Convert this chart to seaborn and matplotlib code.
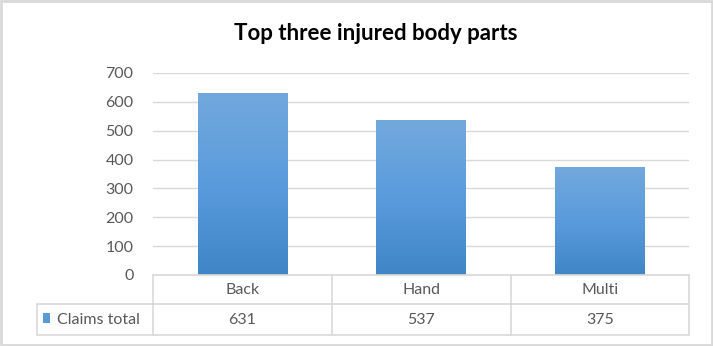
import numpy as np
import pandas as pd
import matplotlib
matplotlib.use("Agg")
import matplotlib.pyplot as plt
import seaborn as sns
from matplotlib.lines import Line2D
from matplotlib.patches import Rectangle
from matplotlib.colors import LinearSegmentedColormap
from matplotlib.transforms import blended_transform_factory

title = "Top three injured body parts"
categories = ["Back", "Hand", "Multi"]
claims_total = [631, 537, 375]
series_name = "Claims total"
yticks = [0, 100, 200, 300, 400, 500, 600, 700]

sns.set_theme(style="white")
plt.rcParams['font.family'] = ['Lato', 'DejaVu Sans']

W, H = 713, 346
fig = plt.figure(figsize=(W / 100, H / 100), dpi=100)
fig.patch.set_facecolor("white")


def fx(x):
    return x / W


def fy(y):
    return 1 - y / H


ax = fig.add_axes([fx(153), fy(275), fx(689) - fx(153), fy(73) - fy(275)])
df = pd.DataFrame({"cat": categories, "val": claims_total})
sns.barplot(data=df, x="cat", y="val", color="#5b9bd5", width=0.5, ax=ax,
            saturation=1, edgecolor="none")

cmap = LinearSegmentedColormap.from_list("g", ["#3f86c7", "#5a9bdc", "#72a9dd"])
grad = np.linspace(0, 1, 256).reshape(-1, 1)
for p in list(ax.patches):
    x0, y0 = p.get_x(), p.get_y()
    x1, y1 = x0 + p.get_width(), y0 + p.get_height()
    im = ax.imshow(grad, extent=[x0, x1, y0, y1], aspect="auto", cmap=cmap,
                   origin="lower", zorder=p.get_zorder() + 0.1)
    im.set_clip_path(p)

fs = 11.5
ax.set_xlim(-0.5, len(categories) - 0.5)
ax.set_ylim(0, 700)
ax.set_yticks(yticks)
ax.set_yticklabels([str(v) for v in yticks], fontsize=fs, color="#595959")
ax.tick_params(axis="y", length=0, pad=14)
ax.set_xticks([])
ax.set_xlabel("")
ax.set_ylabel("")
ax.yaxis.grid(True, color="#d9d9d9", linewidth=1)
ax.set_axisbelow(True)
for s in ax.spines.values():
    s.set_visible(False)
ax.set_facecolor("none")

# data table
tcol = "#d9d9d9"
lines = [
    ((153, 689), (275, 275)),
    ((37, 689), (304, 304)),
    ((37, 689), (335, 335)),
    ((37, 37), (304, 335)),
    ((153, 153), (275, 335)),
    ((332, 332), (275, 335)),
    ((511, 511), (275, 335)),
    ((689, 689), (275, 335)),
]
for xs, ys in lines:
    fig.add_artist(Line2D([fx(xs[0]), fx(xs[1])], [fy(ys[0]), fy(ys[1])],
                          color=tcol, linewidth=1.2, transform=fig.transFigure))

tr = blended_transform_factory(ax.transData, fig.transFigure)
for i, (c, v) in enumerate(zip(categories, claims_total)):
    ax.text(i, fy(290), c, transform=tr, ha="center", va="center",
            fontsize=fs, color="#595959", clip_on=False)
    ax.text(i, fy(320), str(v), transform=tr, ha="center", va="center",
            fontsize=fs, color="#595959", clip_on=False)

fig.add_artist(Rectangle((fx(43), fy(323)), fx(50) - fx(43), fy(313) - fy(323),
                         facecolor="#5b9bd5", edgecolor="none",
                         transform=fig.transFigure))
fig.text(fx(57), fy(320), series_name, ha="left", va="center",
         fontsize=fs, color="#595959")

fig.text(fx(376), fy(33), title, ha="center", va="center",
         fontsize=16, fontweight="bold", color="black")

fig.add_artist(Rectangle((0.0015, 0.003), 0.997, 0.994, fill=False,
                         edgecolor="#d9d9d9", linewidth=2,
                         transform=fig.transFigure))

fig.savefig("out.png", dpi=100)
